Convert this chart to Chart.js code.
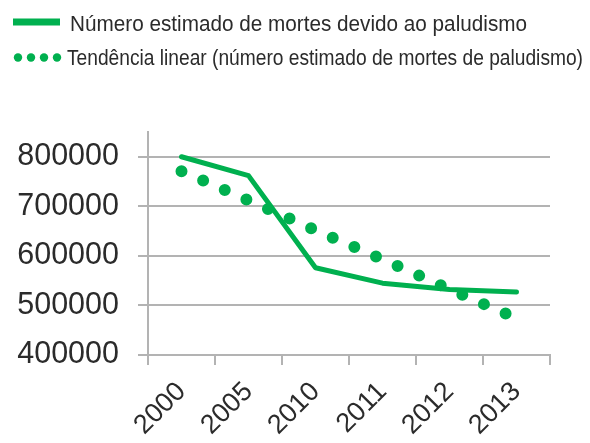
<!DOCTYPE html>
<html>
<head>
<meta charset="utf-8">
<script src="https://cdn.jsdelivr.net/npm/chart.js@4"></script>
<style>
	html, body { margin: 0; padding: 0; background: #fff; }
	#wrap { width: 590px; height: 443px; }
</style>
</head>
<body>
<div id="wrap"><canvas id="malariaChart" width="590" height="443"></canvas></div>
<script>
const years = ['2000', '2005', '2010', '2011', '2012', '2013'];
const deaths = [800000, 762000, 576000, 545000, 532000, 527000];
const trend = [771000, 712000, 652000, 593000, 533000, 474000];
const yTicks = [400000, 500000, 600000, 700000, 800000];
const seriesNames = [
	'Número estimado de mortes devido ao paludismo',
	'Tendência linear (número estimado de mortes de paludismo)'
];

const green = '#00b04f';
const textColor = '#2b2b2b';
const gridColor = '#b3b3b3';
const fontFamily = '"Liberation Sans", Arial, sans-serif';

// legend drawn by hand: the original uses a condensed face
const legendRows = [
	{ textX: 70, textW: 457, baseline: 31 },
	{ textX: 67, textW: 516, baseline: 64.5 }
];

const manualLegend = {
	id: 'manualLegend',
	afterDraw(chart) {
		const c = chart.ctx;
		c.save();
		c.fillStyle = green;
		c.fillRect(13, 18.5, 47, 7);
		for (let i = 0; i < 4; i++) {
			c.beginPath();
			c.arc(18 + i * 13, 57.5, 4.2, 0, Math.PI * 2);
			c.fill();
		}
		c.fillStyle = textColor;
		c.font = '22px ' + fontFamily;
		c.textBaseline = 'alphabetic';
		seriesNames.forEach((name, i) => {
			const row = legendRows[i];
			const w = c.measureText(name).width;
			c.save();
			c.translate(row.textX, row.baseline);
			c.scale(row.textW / w, 1);
			c.fillText(name, 0, 0);
			c.restore();
		});
		c.restore();
	}
};

const ctx = document.getElementById('malariaChart').getContext('2d');

new Chart(ctx, {
	type: 'line',
	data: {
		labels: years,
		datasets: [{
			label: seriesNames[0],
			data: deaths,
			borderColor: green,
			backgroundColor: green,
			borderWidth: 5,
			borderCapStyle: 'round',
			borderJoinStyle: 'round',
			pointRadius: 0,
			tension: 0
		}, {
			label: seriesNames[1],
			data: trend,
			borderColor: green,
			backgroundColor: green,
			borderWidth: 12,
			borderDash: [0, 23.6],
			borderCapStyle: 'round',
			pointRadius: 0,
			tension: 0
		}]
	},
	options: {
		responsive: false,
		maintainAspectRatio: false,
		animation: false,
		layout: { padding: { left: 0, right: 40, top: 132, bottom: 0 } },
		plugins: {
			tooltip: { enabled: false },
			legend: { display: false }
		},
		scales: {
			x: {
				offset: true,
				grid: {
					offset: true,
					drawOnChartArea: false,
					drawTicks: true,
					tickLength: 10,
					color: gridColor,
					lineWidth: 2
				},
				border: { display: true, color: gridColor, width: 2 },
				ticks: {
					autoSkip: false,
					color: textColor,
					font: { family: fontFamily, size: 27 },
					minRotation: 45,
					maxRotation: 45,
					padding: 11
				},
				afterFit(scale) { scale.height = 88; }
			},
			y: {
				min: 400000,
				max: 850000,
				grid: {
					color: gridColor,
					lineWidth: 2,
					tickLength: 10
				},
				border: { display: true, color: gridColor, width: 2 },
				ticks: {
					autoSkip: false,
					color: textColor,
					padding: 19,
					font: { family: fontFamily, size: 30.5 },
					callback: v => String(v)
				},
				afterBuildTicks(scale) {
					scale.ticks = yTicks.map(v => ({ value: v }));
				},
				afterFit(scale) { scale.width = 148; }
			}
		}
	},
	plugins: [manualLegend]
});
</script>
</body>
</html>
